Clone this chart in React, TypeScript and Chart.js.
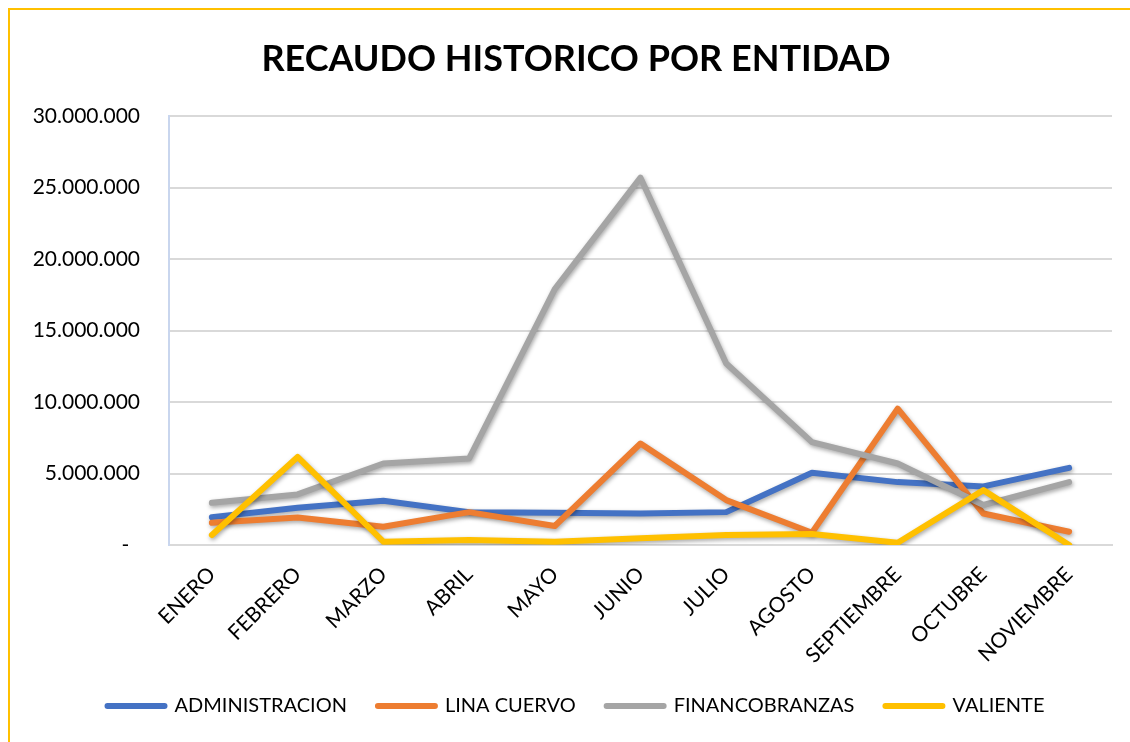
import React, { useEffect, useRef } from "react";
import { Chart, registerables } from "chart.js";

Chart.register(...registerables);

const months = ["ENERO", "FEBRERO", "MARZO", "ABRIL", "MAYO", "JUNIO", "JULIO", "AGOSTO", "SEPTIEMBRE", "OCTUBRE", "NOVIEMBRE"];
const administracion = [1950000, 2600000, 3100000, 2300000, 2250000, 2200000, 2300000, 5050000, 4400000, 4100000, 5400000];
const linaCuervo = [1560000, 1930000, 1280000, 2300000, 1330000, 7100000, 3140000, 860000, 9540000, 2200000, 930000];
const financobranzas = [2950000, 3540000, 5700000, 6050000, 17900000, 25700000, 12700000, 7200000, 5700000, 2800000, 4400000];
const valiente = [700000, 6160000, 230000, 350000, 230000, 470000, 700000, 770000, 160000, 3840000, 0];
const seriesNames = ["ADMINISTRACION", "LINA CUERVO", "FINANCOBRANZAS", "VALIENTE"];
const seriesColors = ["#4472C4", "#ED7D31", "#A5A5A5", "#FFC000"];
const yMax = 30000000;
const yStep = 5000000;
const title = "RECAUDO HISTORICO POR ENTIDAD";

const fmt = (v: number) => (v === 0 ? "-  " : String(v).replace(/\B(?=(\d{3})+(?!\d))/g, "."));

const shadowPlugin = {
  id: "lineShadow",
  beforeDatasetsDraw(chart: any) {
    const ctx = chart.ctx;
    ctx.save();
    ctx.shadowColor = "rgba(0,0,0,0.35)";
    ctx.shadowBlur = 4;
    ctx.shadowOffsetX = 1;
    ctx.shadowOffsetY = 2;
  },
  afterDatasetsDraw(chart: any) {
    chart.ctx.restore();
  },
};

export default function App() {
  const ref = useRef<HTMLCanvasElement>(null);
  useEffect(() => {
    const all = [administracion, linaCuervo, financobranzas, valiente];
    const chart = new Chart(ref.current!, {
      type: "line",
      data: {
        labels: months,
        datasets: all.map((d, i) => ({
          label: seriesNames[i],
          data: d,
          borderColor: seriesColors[i],
          backgroundColor: seriesColors[i],
          borderWidth: 6,
          borderCapStyle: "round",
          borderJoinStyle: "round",
          pointRadius: 0,
          pointHoverRadius: 0,
          tension: 0,
          fill: false,
          yAxisID: "y",
          order: 3 - i,
        })),
      },
      options: {
        animation: false,
        responsive: false,
        devicePixelRatio: 1,
        layout: { padding: { left: 0, right: 0, top: 0, bottom: 16 } },
        plugins: {
          tooltip: { enabled: false },
          title: {
            display: true,
            text: title,
            color: "#000",
            font: { family: "Lato", size: 36, weight: "bold" },
            padding: { top: 28, bottom: 35 },
          },
          legend: {
            position: "bottom",
            labels: {
              usePointStyle: true,
              pointStyleWidth: 57,
              boxHeight: 6,
              padding: 31,
              color: "#000",
              font: { family: "Lato", size: 20 },
              sort: (a: any, b: any) => a.datasetIndex - b.datasetIndex,
              generateLabels: (c: any) =>
                c.data.datasets.map((ds: any, i: number) => ({
                  text: ds.label,
                  datasetIndex: i,
                  fillStyle: seriesColors[i],
                  strokeStyle: seriesColors[i],
                  lineWidth: 6,
                  lineCap: "round",
                  pointStyle: "line",
                  hidden: false,
                  fontColor: "#000",
                })),
            },
          },
        },
        scales: {
          x: {
            offset: true,
            grid: { display: false, drawTicks: false },
            border: { display: true, color: "#D9D9D9", width: 2 },
            ticks: {
              minRotation: 45,
              maxRotation: 45,
              autoSkip: false,
              padding: 17,
              color: "#000",
              font: { family: "Lato", size: 21 },
            },
            afterFit: (s: any) => {
              s.height = 120;
            },
          },
          y: {
            min: 0,
            max: yMax,
            grid: { color: "#D9D9D9", lineWidth: 2, drawTicks: false },
            border: { display: true, color: "#C9D6EE", width: 2 },
            ticks: {
              stepSize: yStep,
              padding: 29,
              color: "#000",
              font: { family: "Lato", size: 21 },
              callback: (v: any) => fmt(Number(v)),
            },
            afterFit: (s: any) => {
              s.width = 159;
            },
          },
          yRight: {
            position: "right",
            display: true,
            min: 0,
            max: yMax,
            grid: { display: false, drawTicks: false },
            border: { display: false },
            ticks: { display: false },
            afterFit: (s: any) => {
              s.width = 30;
            },
          },
        },
      },
      plugins: [shadowPlugin],
    });
    return () => chart.destroy();
  }, []);
  return (
    <div
      style={{
        position: "fixed",
        left: 8,
        top: 8,
        width: 1122,
        height: 734,
        overflow: "hidden",
        borderTop: "2px solid #FFC000",
        borderLeft: "2px solid #FFC000",
        boxSizing: "border-box",
        background: "#fff",
      }}
    >
      <canvas ref={ref} width={1132} height={732} style={{ display: "block" }} />
    </div>
  );
}
